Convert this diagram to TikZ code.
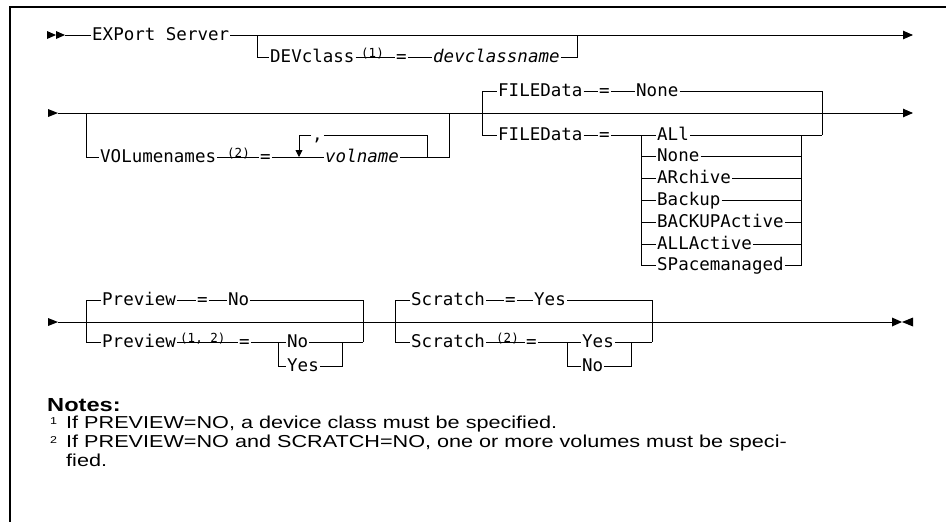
\documentclass[tikz,border=0pt]{standalone}
\usepackage{fontspec}
\usetikzlibrary{arrows.meta}
\newfontfamily\mono{DejaVu Sans Mono}
\newfontfamily\notefont[FakeStretch=1.25]{Liberation Sans}
\begin{document}
\begin{tikzpicture}[x=1pt,y=-1pt,
  ln/.style={line width=0.9pt},
  kw/.style={font=\mono\fontsize{17.5}{20}\selectfont, inner xsep=1pt, inner ysep=0pt, text height=12.5pt, text depth=2.5pt, anchor=west},
  var/.style={kw, font=\mono\itshape\fontsize{17.5}{20}\selectfont},
  sup/.style={font=\mono\fontsize{12.5}{14}\selectfont, inner sep=0pt, anchor=south west},
  note/.style={font=\notefont\fontsize{17.3}{20}\selectfont, inner sep=0pt, anchor=base west},
  notemark/.style={font=\notefont\fontsize{10}{11}\selectfont, inner sep=0pt, anchor=base west},
  endtip/.style={-{Triangle[length=10pt,width=8.5pt]}},
  looptip/.style={-{Triangle[length=7pt,width=7pt]}},
  frame/.style={line width=1.3pt}]
\useasboundingbox (0,0) rectangle (946,522);
% frame
\draw[frame] (10,522) -- (10,7) -- (946,7);

% ---------- Row 1 ----------
\fill (47,31) -- (56,35) -- (47,39) -- cycle;
\fill (56,31) -- (65,35) -- (56,39) -- cycle;
\coordinate (s1) at (65,35);
\node[kw] (exp) at (91,35) {EXPort Server};
\coordinate (j1) at (257,35);
\coordinate (j1b) at (257,57);
\node[kw] (dev) at (269,57) {DEVclass};
\node[sup] (dev1) at (361,59) {(1)};
\node[kw] (deveq) at (395,57) {=};
\node[var] (devn) at (432,57) {devclassname};
\coordinate (k1b) at (577,57);
\coordinate (k1) at (577,35);
\coordinate (e1) at (913,35);
\draw[ln] (s1) -- (exp.west);
\draw[ln,endtip] (exp.east) -- (e1);
\draw[ln] (j1) -- (j1b) -- (dev.west);
\draw[ln] (dev.east) -- (deveq.west);
\draw[ln] (deveq.east) -- (devn.west);
\draw[ln] (devn.east) -- (k1b) -- (k1);

% ---------- Row 2 ----------
\fill (48,109) -- (58,113) -- (48,117) -- cycle;
\coordinate (s2) at (58,113);
\coordinate (e2) at (913,113);
\draw[ln,endtip] (s2) -- (e2);
% VOLumenames
\coordinate (j2) at (86,113);
\coordinate (j2b) at (86,157);
\node[kw] (vol) at (99,157) {VOLumenames};
\node[sup] (vol2) at (227,159) {(2)};
\node[kw] (voleq) at (259,157) {=};
\coordinate (rpL) at (299,157);
\coordinate (rpLt) at (299,135);
\node[kw] (comma) at (311,135) {,};
\node[var] (volname) at (324,157) {volname};
\coordinate (rpR) at (427,157);
\coordinate (rpRt) at (427,135);
\coordinate (k2b) at (449,157);
\coordinate (k2) at (449,113);
\draw[ln] (j2) -- (j2b) -- (vol.west);
\draw[ln] (vol.east) -- (voleq.west);
\draw[ln] (voleq.east) -- (volname.west);
\draw[ln,looptip] (comma.west) -- (rpLt) -- (rpL);
\draw[ln] (comma.east) -- (rpRt) -- (rpR);
\draw[ln] (volname.east) -- (k2b) -- (k2);
% FILEData
\coordinate (f1t) at (482,91);
\coordinate (f1b) at (482,135);
\node[kw] (fdA) at (497,91) {FILEData};
\node[kw] (fdAeq) at (598,91) {=};
\node[kw] (fdAn) at (635,91) {None};
\coordinate (f2t) at (822,91);
\coordinate (f2b) at (822,135);
\node[kw] (fdB) at (497,135) {FILEData};
\node[kw] (fdBeq) at (598,135) {=};
\coordinate (g1) at (641,135);
\coordinate (g2) at (801,135);
\node[kw] (o1) at (656,135) {ALl};
\node[kw] (o2) at (656,156.8) {None};
\node[kw] (o3) at (656,178.6) {ARchive};
\node[kw] (o4) at (656,200.4) {Backup};
\node[kw] (o5) at (656,222.2) {BACKUPActive};
\node[kw] (o6) at (656,244) {ALLActive};
\node[kw] (o7) at (656,265.8) {SPacemanaged};
\draw[ln] (f1t) -- (f1b);
\draw[ln] (f1t) -- (fdA.west);
\draw[ln] (fdA.east) -- (fdAeq.west);
\draw[ln] (fdAeq.east) -- (fdAn.west);
\draw[ln] (fdAn.east) -- (f2t) -- (f2b);
\draw[ln] (f1b) -- (fdB.west);
\draw[ln] (fdB.east) -- (fdBeq.west);
\draw[ln] (fdBeq.east) -- (o1.west);
\draw[ln] (o1.east) -- (f2b);
\draw[ln] (g1) -- (g1 |- o7.west);
\draw[ln] (g2) -- (g2 |- o7.east);
\foreach \o in {o2,o3,o4,o5,o6,o7}{
  \draw[ln] (g1 |- \o.west) -- (\o.west);
  \draw[ln] (\o.east) -- (g2 |- \o.east);
}

% ---------- Row 3 ----------
\fill (48,318) -- (58,322) -- (48,326) -- cycle;
\coordinate (s3) at (58,322);
\coordinate (e3) at (892,322);
\draw[ln] (s3) -- (e3);
\fill (892,317.5) -- (902,322) -- (892,326.5) -- cycle;
\fill (913,317.5) -- (902,322) -- (913,326.5) -- cycle;
% Preview
\coordinate (p1t) at (86,300);
\coordinate (p1b) at (86,342);
\node[kw] (pvA) at (101,300) {Preview};
\node[kw] (pvAeq) at (196,300) {=};
\node[kw] (pvAno) at (227,300) {No};
\coordinate (p2t) at (363,300);
\coordinate (p2b) at (363,342);
\node[kw] (pvB) at (101,342) {Preview};
\node[sup] (pvB12) at (180,344) {(1, 2)};
\node[kw] (pvBeq) at (238,342) {=};
\coordinate (q1) at (278,342);
\node[kw] (pno) at (286,342) {No};
\node[kw] (pyes) at (286,366) {Yes};
\coordinate (q2) at (342,342);
\draw[ln] (p1t) -- (p1b);
\draw[ln] (p1t) -- (pvA.west);
\draw[ln] (pvA.east) -- (pvAeq.west);
\draw[ln] (pvAeq.east) -- (pvAno.west);
\draw[ln] (pvAno.east) -- (p2t) -- (p2b);
\draw[ln] (p1b) -- (pvB.west);
\draw[ln] (pvB.east) -- (pvBeq.west);
\draw[ln] (pvBeq.east) -- (pno.west);
\draw[ln] (pno.east) -- (p2b);
\draw[ln] (q1) -- (q1 |- pyes.west) -- (pyes.west);
\draw[ln] (pyes.east) -- (q2 |- pyes.east) -- (q2);
% Scratch
\coordinate (r1t) at (395,300);
\coordinate (r1b) at (395,342);
\node[kw] (scA) at (410,300) {Scratch};
\node[kw] (scAeq) at (504,300) {=};
\node[kw] (scAyes) at (533,300) {Yes};
\coordinate (r2t) at (652,300);
\coordinate (r2b) at (652,342);
\node[kw] (scB) at (410,342) {Scratch};
\node[sup] (scB2) at (496,344) {(2)};
\node[kw] (scBeq) at (525,342) {=};
\coordinate (t1) at (567,342);
\node[kw] (syes) at (581,342) {Yes};
\node[kw] (sno) at (581,366) {No};
\coordinate (t2) at (631,342);
\draw[ln] (r1t) -- (r1b);
\draw[ln] (r1t) -- (scA.west);
\draw[ln] (scA.east) -- (scAeq.west);
\draw[ln] (scAeq.east) -- (scAyes.west);
\draw[ln] (scAyes.east) -- (r2t) -- (r2b);
\draw[ln] (r1b) -- (scB.west);
\draw[ln] (scB.east) -- (scBeq.west);
\draw[ln] (scBeq.east) -- (syes.west);
\draw[ln] (syes.east) -- (r2b);
\draw[ln] (t1) -- (t1 |- sno.west) -- (sno.west);
\draw[ln] (sno.east) -- (t2 |- sno.east) -- (t2);

% ---------- Notes ----------
\node[note, font=\notefont\bfseries\fontsize{18.9}{22}\selectfont] (notes) at (47,411) {Notes:};
\node[notemark] (m1) at (50,424) {1};
\node[note] (n1) at (66,428) {If PREVIEW=NO, a device class must be specified.};
\node[notemark] (m2) at (50,443) {2};
\node[note] (n2) at (66,447) {If PREVIEW=NO and SCRATCH=NO, one or more volumes must be speci-};
\node[note] (n2b) at (66,466) {fied.};
\end{tikzpicture}
\end{document}
